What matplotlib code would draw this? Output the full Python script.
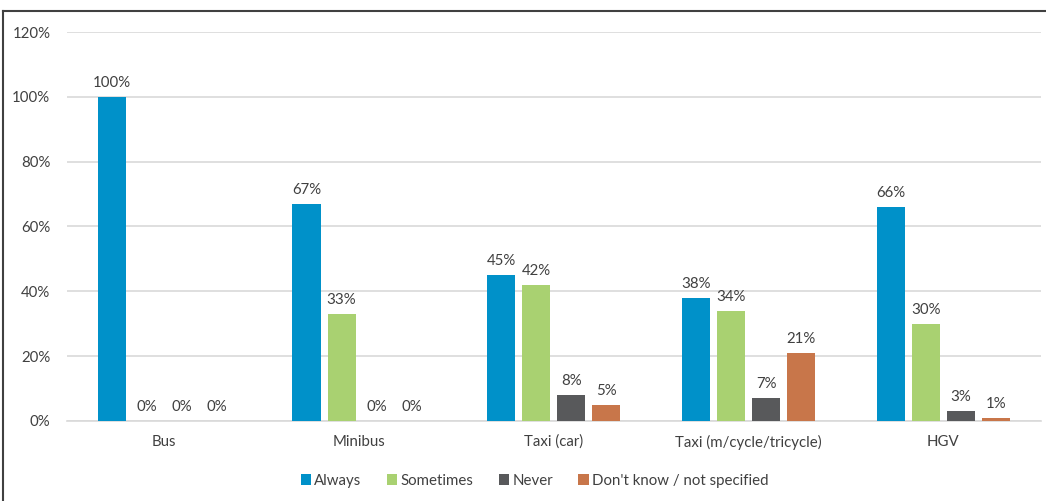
import numpy as np
import matplotlib.pyplot as plt
from matplotlib.lines import Line2D

plt.rcParams['font.family'] = ['Lato', 'DejaVu Sans']

categories = ['Bus', 'Minibus', 'Taxi (car)', 'Taxi (m/cycle/tricycle)', 'HGV']
series_names = ['Always', 'Sometimes', 'Never', "Don't know / not specified"]
always = [100, 67, 45, 38, 66]
sometimes = [0, 33, 42, 34, 30]
never = [0, 0, 8, 7, 3]
dont_know = [0, 0, 5, 21, 1]
yticks = [0, 20, 40, 60, 80, 100, 120]

colors = ['#0091C9', '#A9D171', '#58595B', '#C8764A']
text_col = '#404040'
fs = 10.8

fig = plt.figure(figsize=(10.46, 5.01), dpi=100)
ax = fig.add_axes([0.064, 0.160, 0.931, 0.776])

x = np.arange(len(categories))
width = 0.144
step = 0.18
offsets = (np.arange(4) - 1.5) * step

for i, vals in enumerate([always, sometimes, never, dont_know]):
    bars = ax.bar(x + offsets[i], vals, width, color=colors[i], label=series_names[i], zorder=3)
    ax.bar_label(bars, labels=[f'{v}%' for v in vals], padding=5,
                 fontsize=fs, color=text_col)

ax.set_xlim(-0.5, len(categories) - 0.5)
ax.set_ylim(0, 120)
ax.set_yticks(yticks)
ax.set_yticklabels([f'{t}%' for t in yticks])
ax.set_xticks(x)
ax.set_xticklabels(categories)
ax.tick_params(axis='both', length=0, labelsize=fs, labelcolor=text_col)
ax.tick_params(axis='y', pad=12)
ax.tick_params(axis='x', pad=10)
ax.grid(axis='y', color='#D9D9D9', linewidth=1.2, zorder=0)
for s in ['top', 'right', 'left']:
    ax.spines[s].set_visible(False)
ax.spines['bottom'].set_color('#D9D9D9')
ax.spines['bottom'].set_linewidth(1.2)

leg = fig.legend(loc='center', bbox_to_anchor=(0.511, 0.04), ncol=4, frameon=False,
                 handlelength=0.7, handleheight=0.7, handletextpad=0.2,
                 columnspacing=1.7, fontsize=fs)
for t in leg.get_texts():
    t.set_color(text_col)

# frame edges around the chart area
fig.add_artist(Line2D([0.003, 1.0], [0.979, 0.979], color='#404040', linewidth=1.5,
                      transform=fig.transFigure))
fig.add_artist(Line2D([0.003, 0.003], [0.0, 0.979], color='#404040', linewidth=1.5,
                      transform=fig.transFigure))

fig.savefig('out.png', dpi=100)
